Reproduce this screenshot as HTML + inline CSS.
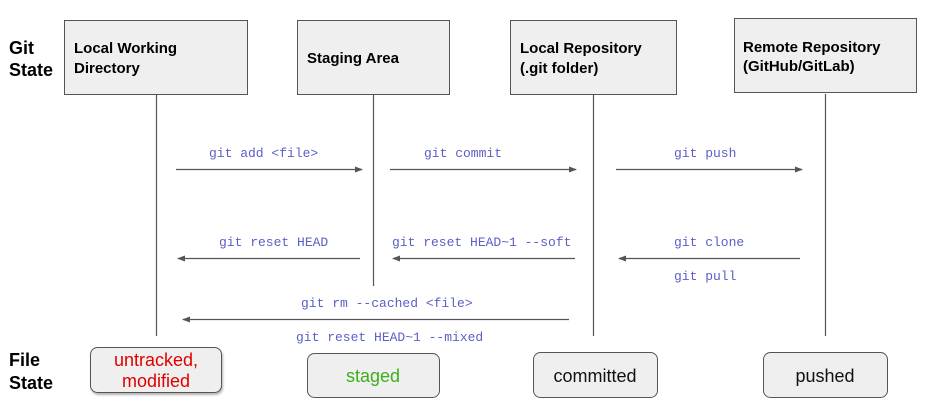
<!DOCTYPE html>
<html><head><meta charset="utf-8"><style>
html,body{margin:0;padding:0;background:#fff;}
svg{display:block;}
.b{font-family:"Liberation Sans",sans-serif;font-weight:bold;font-size:15px;fill:#000;}
.h{font-family:"Liberation Sans",sans-serif;font-weight:bold;font-size:18px;fill:#000;}
.m{font-family:"Liberation Mono",monospace;font-size:13px;fill:#5b5fc7;}
.s{font-family:"Liberation Sans",sans-serif;font-size:18px;text-anchor:middle;}
</style></head><body>
<svg width="935" height="410" viewBox="0 0 935 410" xmlns="http://www.w3.org/2000/svg">
<defs><marker id="a" markerWidth="8" markerHeight="6" refX="7" refY="3" orient="auto" markerUnits="userSpaceOnUse"><path d="M0,0 L8,3 L0,6z" fill="#555"/></marker></defs>
<text class="h" x="9" y="54">Git</text><text class="h" x="9" y="76">State</text>
<text class="h" x="9" y="366">File</text><text class="h" x="9" y="389">State</text>
<g fill="#efefef" stroke="#555" stroke-width="1">
<rect x="64.5" y="20.5" width="183" height="74"/>
<rect x="297.5" y="20.5" width="152" height="74"/>
<rect x="510.5" y="20.5" width="166" height="74"/>
<rect x="734.5" y="18.5" width="182" height="74"/>
</g>
<text class="b" x="74" y="53">Local Working</text><text class="b" x="74" y="73">Directory</text>
<text class="b" x="307" y="63">Staging Area</text>
<text class="b" x="520" y="53">Local Repository</text><text class="b" x="520" y="73">(.git folder)</text>
<text class="b" x="743" y="52">Remote Repository</text><text class="b" x="743" y="71">(GitHub/GitLab)</text>
<g stroke="#555" stroke-width="1.2">
<line x1="156.5" y1="94" x2="156.5" y2="336"/>
<line x1="373.5" y1="94" x2="373.5" y2="286"/>
<line x1="593.5" y1="94" x2="593.5" y2="336"/>
<line x1="825.5" y1="94" x2="825.5" y2="336"/>
<line x1="176" y1="169.5" x2="362" y2="169.5" marker-end="url(#a)"/>
<line x1="390" y1="169.5" x2="576" y2="169.5" marker-end="url(#a)"/>
<line x1="616" y1="169.5" x2="802" y2="169.5" marker-end="url(#a)"/>
<line x1="360" y1="258.5" x2="178" y2="258.5" marker-end="url(#a)"/>
<line x1="575" y1="258.5" x2="393" y2="258.5" marker-end="url(#a)"/>
<line x1="800" y1="258.5" x2="619" y2="258.5" marker-end="url(#a)"/>
<line x1="569" y1="319.5" x2="183" y2="319.5" marker-end="url(#a)"/>
</g>
<text class="m" x="209" y="157">git add &lt;file&gt;</text>
<text class="m" x="424" y="157">git commit</text>
<text class="m" x="674" y="157">git push</text>
<text class="m" x="219" y="246">git reset HEAD</text>
<text class="m" x="392" y="246">git reset HEAD~1 --soft</text>
<text class="m" x="674" y="246">git clone</text>
<text class="m" x="674" y="280">git pull</text>
<text class="m" x="301" y="307">git rm --cached &lt;file&gt;</text>
<text class="m" x="296" y="341">git reset HEAD~1 --mixed</text>
<g fill="#efefef" stroke="#555" stroke-width="1">
<rect x="90.5" y="347.5" width="131" height="45" rx="7" style="filter:drop-shadow(1px 2px 1px rgba(0,0,0,0.3))"/>
<rect x="307.5" y="353.5" width="132" height="44" rx="7"/>
<rect x="533.5" y="352.5" width="124" height="45" rx="7"/>
<rect x="763.5" y="352.5" width="124" height="45" rx="7"/>
</g>
<text class="s" x="156" y="366" fill="#e00000">untracked,</text>
<text class="s" x="156" y="387" fill="#e00000">modified</text>
<text class="s" x="373" y="382" fill="#3bb01a">staged</text>
<text class="s" x="595" y="382" fill="#111">committed</text>
<text class="s" x="825" y="382" fill="#111">pushed</text>
</svg>
</body></html>
